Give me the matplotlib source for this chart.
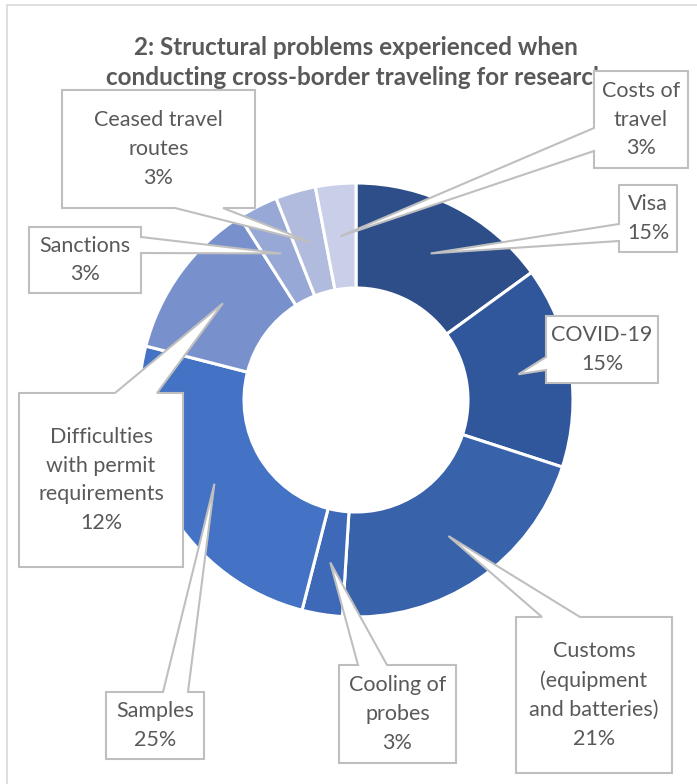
import matplotlib.pyplot as plt
import numpy as np
from matplotlib.patches import Polygon, Rectangle

# data
labels = ["Visa", "COVID-19", "Customs\n(equipment\nand batteries)", "Cooling of\nprobes",
          "Samples", "Difficulties\nwith permit\nrequirements", "Sanctions",
          "Ceased travel\nroutes", "Costs of\ntravel"]
values = [15, 15, 21, 3, 25, 12, 3, 3, 3]
colors = ["#2E4E8A", "#30579C", "#3862AA", "#3D69B8", "#4472C4",
          "#7890CC", "#97A8D6", "#B0BBDE", "#C9CFE9"]

W, H = 697, 784
CX, CY, R, RING = 356, 400, 217, 105
TXT = "#595959"
EDGE = "#BFBFBF"


def Y(y):
    # image rows -> axis coords
    return H - y


# callout layout: box (x0, y0, x1, y1) in image px, side, base pair along that side
callouts = [
    ((619, 185, 677, 252), "left", (224, 241)),
    ((546, 316, 658, 383), "left", (357, 370)),
    ((516, 617, 672, 773), "top", (542, 580)),
    ((339, 665, 456, 763), "top", (358, 387)),
    ((106, 692, 204, 759), "top", (163, 188)),
    ((19, 393, 183, 567), "top", (115, 157)),
    ((29, 227, 141, 293), "right", (237, 253)),
    ((62, 90, 255, 208), "bottom", (175, 223)),
    ((594, 71, 688, 168), "left", (128, 151)),
]

fig = plt.figure(figsize=(W / 100, H / 100), dpi=100)
ax = fig.add_axes([0, 0, 1, 1])

wedges, _ = ax.pie(values, colors=colors, startangle=90, counterclock=False,
                   center=(CX, Y(CY)), radius=R,
                   wedgeprops=dict(width=RING, edgecolor="white", linewidth=2.2))
ax.set_xlim(0, W)
ax.set_ylim(0, H)
ax.set_aspect("equal")
ax.set_axis_off()

ax.add_patch(Rectangle((7, -10), W + 20, Y(5) + 10, fill=False, ec="#D9D9D9", lw=1.2, zorder=0))

ax.text(356, Y(47), "2: Structural problems experienced when", ha="center", va="center",
        fontsize=17.5, fontweight="bold", color=TXT, family="Lato", zorder=2)
ax.text(356, Y(77), "conducting cross-border traveling for research", ha="center", va="center",
        fontsize=17.5, fontweight="bold", color=TXT, family="Lato", zorder=2)

for w, val, lab, (box, side, base) in zip(wedges, values, labels, callouts):
    mid = np.deg2rad((w.theta1 + w.theta2) / 2)
    rm = R - RING / 2
    tip = (CX + rm * np.cos(mid), Y(CY) + rm * np.sin(mid))
    x0, y0, x1, y1 = box
    tl, tr, br, bl = (x0, Y(y0)), (x1, Y(y0)), (x1, Y(y1)), (x0, Y(y1))
    b1, b2 = base
    if side == "top":
        pts = [tl, (b1, Y(y0)), tip, (b2, Y(y0)), tr, br, bl]
    elif side == "right":
        pts = [tl, tr, (x1, Y(b1)), tip, (x1, Y(b2)), br, bl]
    elif side == "bottom":
        pts = [tl, tr, br, (b2, Y(y1)), tip, (b1, Y(y1)), bl]
    else:
        pts = [tl, tr, br, bl, (x0, Y(b2)), tip, (x0, Y(b1))]
    ax.add_patch(Polygon(pts, closed=True, fc="white", ec=EDGE, lw=1.5, zorder=5))
    ax.text((x0 + x1) / 2, Y((y0 + y1) / 2), "%s\n%d%%" % (lab, val), ha="center", va="center",
            fontsize=15.5, color=TXT, family="Lato", linespacing=1.55, zorder=6)

fig.savefig("out.png", dpi=100)
